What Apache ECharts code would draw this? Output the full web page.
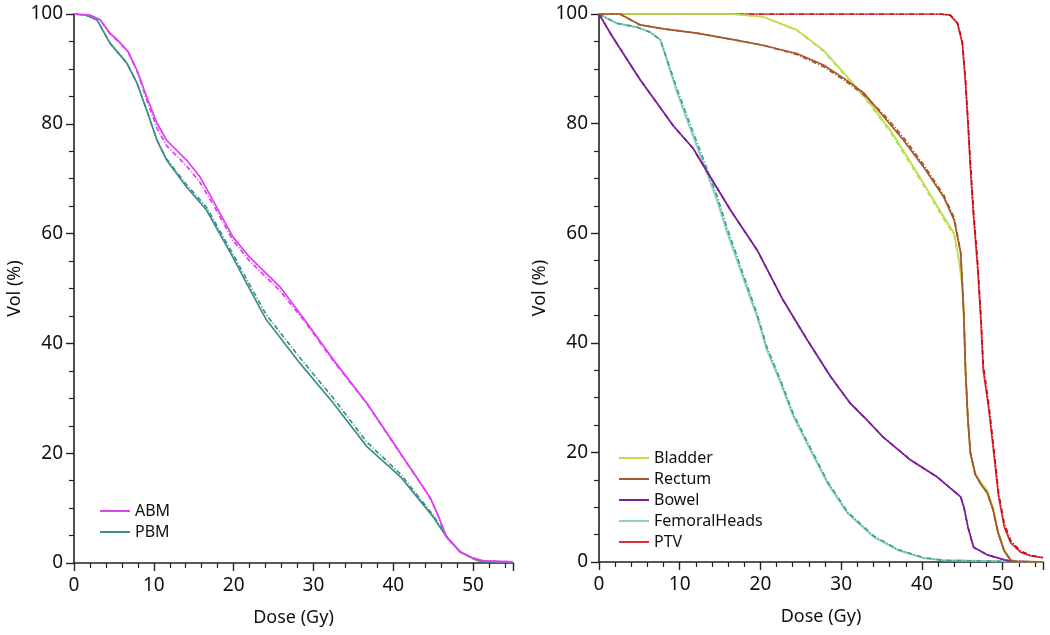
<!DOCTYPE html>
<html>
<head>
<meta charset="utf-8">
<script src="https://cdn.jsdelivr.net/npm/echarts@6/dist/echarts.min.js"></script>
<style>
  html, body { margin: 0; padding: 0; background: #fff; }
  #chart-container { width: 1050px; height: 635px; }
</style>
</head>
<body>
<div id="chart-container"></div>
<script>
// left panel: bone marrow DVH (solid / dash-dot plan)
const abmDose = [0, 2, 3.3, 4.5, 5.7, 6.8, 8.0, 9.1, 10.4, 11.6, 14.1, 15.8, 17.4, 19.9, 22.0, 25.8, 28.9, 32.5, 36.7, 40.9, 44.6, 45.5, 46.7, 48.4, 50.0, 51.3, 55];
const abmVol = [100, 99.8, 98.9, 96.5, 94.9, 93.1, 89.4, 84.9, 80.1, 77.0, 73.4, 70.3, 66.1, 59.4, 55.7, 50.3, 44.3, 37.0, 29.1, 20.0, 12.0, 9.1, 4.7, 2.0, 0.9, 0.4, 0.2];
const abmVolDash = [100, 99.8, 98.9, 96.4, 94.8, 93.0, 89.2, 84.4, 79.2, 76.0, 72.3, 69.3, 65.4, 58.8, 55.0, 49.6, 44.0, 36.8, 29.0, 19.9, 11.9, 9.0, 4.6, 2.0, 0.9, 0.4, 0.2];

const pbmDose = [0, 1.5, 2.9, 4.5, 6.6, 7.9, 9.1, 10.4, 11.6, 14.1, 16.6, 19.9, 21.2, 24.1, 28.3, 32.5, 36.7, 40.9, 45.0, 46.7, 48.4, 50, 51, 55];
const pbmVol = [100, 99.8, 98.9, 94.7, 91.1, 87.4, 82.5, 77.0, 73.4, 68.5, 64.3, 55.7, 52.1, 44.3, 36.4, 29.1, 21.2, 15.7, 8.4, 4.7, 2.0, 0.8, 0.3, 0.1];
const pbmVolDash = [100, 99.8, 98.9, 94.7, 91.1, 87.4, 82.5, 77.0, 73.6, 68.9, 64.8, 56.3, 52.8, 45.2, 37.4, 30.0, 22.0, 16.2, 8.7, 4.8, 2.0, 0.8, 0.3, 0.1];

// right panel: organs at risk + PTV
const bladderDose = [0, 16.3, 20.3, 24.5, 27.8, 31.1, 33.6, 36.1, 38.2, 40.7, 42.7, 44.0, 44.6, 45.0, 45.2, 45.4, 45.7, 46.0, 46.6, 47.3, 48.1, 48.8, 49.4, 50.2, 51.0, 52, 55];
const bladderVol = [100, 100, 99.5, 97.1, 93.4, 88.0, 83.7, 78.8, 73.9, 67.9, 63.0, 60.0, 55.1, 50.2, 44.2, 35.0, 25.9, 19.9, 16.2, 14.6, 13.1, 10.0, 5.8, 2.2, 0.4, 0, 0];
const bladderVolDash = [100, 100, 99.5, 97.0, 93.2, 87.8, 83.4, 78.4, 73.5, 67.5, 62.6, 59.6, 54.8, 50.0, 44.0, 34.8, 25.7, 19.7, 16.0, 14.4, 12.9, 9.8, 5.6, 2.1, 0.4, 0, 0];

const rectumDose = [0, 2.6, 5.1, 8.0, 12.1, 16.3, 20.3, 24.5, 27.8, 30.3, 32.8, 35.3, 37.7, 40.2, 42.7, 44.0, 44.8, 45.0, 45.2, 45.4, 45.7, 46.0, 46.6, 47.3, 48.1, 48.8, 49.4, 50.2, 51.0, 52, 55];
const rectumVol = [100, 100, 98.0, 97.3, 96.5, 95.4, 94.3, 92.8, 90.7, 88.3, 85.6, 81.2, 77.0, 72.1, 66.6, 62.4, 56.4, 50.9, 45.0, 35.0, 26.0, 20.0, 16.0, 14.2, 12.6, 9.6, 5.5, 2.0, 0.3, 0, 0];
const rectumVolDash = [100, 100, 98.0, 97.3, 96.5, 95.4, 94.3, 92.6, 90.4, 88.0, 85.3, 81.6, 77.5, 72.5, 67.0, 62.8, 56.6, 51.0, 45.0, 35.0, 26.0, 20.0, 16.0, 14.2, 12.6, 9.6, 5.5, 2.0, 0.3, 0, 0];

const bowelDose = [0, 1.4, 3.0, 5.1, 7.2, 9.2, 11.7, 12.5, 16.3, 19.6, 22.8, 25.8, 28.7, 31.1, 32.8, 35.2, 38.6, 41.9, 44.8, 45.2, 45.7, 46.4, 48.1, 50.2, 51.5, 55];
const bowelVol = [100, 96.5, 92.8, 88.0, 83.7, 79.6, 75.4, 73.4, 64.2, 56.9, 47.8, 40.5, 33.8, 29.0, 26.5, 22.8, 18.6, 15.5, 11.9, 10.0, 6.4, 2.7, 1.3, 0.4, 0.1, 0];
const bowelVolDash = [100, 96.5, 92.8, 88.0, 83.7, 79.6, 75.4, 73.4, 64.2, 56.9, 47.8, 40.5, 33.8, 29.0, 26.5, 22.8, 18.6, 15.5, 11.9, 10.0, 6.4, 2.7, 1.3, 0.4, 0.1, 0];

const femDose = [0, 2.2, 4.7, 6.3, 7.6, 8.4, 9.7, 10.9, 12.9, 14.6, 15.9, 17.1, 18.4, 19.6, 20.8, 22.5, 24.1, 26.2, 28.3, 30.8, 34.0, 37.0, 40.2, 42.7, 55];
const femVol = [100, 98.3, 97.6, 96.7, 95.3, 91.6, 85.6, 80.7, 72.8, 66.1, 60.0, 55.1, 49.6, 44.7, 38.7, 32.7, 26.5, 20.4, 14.4, 8.9, 4.6, 2.2, 0.7, 0.3, 0];
const femVolDash = [100, 98.3, 97.6, 96.7, 95.3, 91.8, 86.2, 81.4, 73.6, 66.9, 60.8, 55.8, 50.2, 45.2, 39.2, 33.1, 26.9, 20.8, 14.7, 9.1, 4.8, 2.3, 0.8, 0.3, 0];

const ptvDose = [0, 42.3, 43.5, 44.4, 45.0, 45.4, 45.7, 46.0, 46.4, 46.9, 47.3, 47.6, 48.3, 48.9, 49.5, 50.2, 51.0, 52.2, 53.5, 55];
const ptvVol = [100, 100, 99.8, 98.3, 94.7, 87.4, 80.1, 72.1, 63.0, 53.8, 44.2, 35.0, 27.7, 19.9, 11.9, 6.4, 3.5, 1.8, 1.1, 0.8];
const ptvVolDash = [100, 100, 99.8, 98.4, 95.0, 88.0, 80.8, 72.9, 63.9, 54.7, 45.2, 36.0, 28.6, 20.7, 12.6, 7.0, 3.9, 2.0, 1.2, 0.8];

const xTicks = [0, 10, 20, 30, 40, 50];
const yTicks = [0, 20, 40, 60, 80, 100];

const font = 'Noto Sans';

function pairs(dose, vol) {
    return dose.map(function (d, i) { return [d, vol[i]]; });
}

function curve(name, grid, dose, vol, color, dashed, width) {
    return {
        name: name,
        type: 'line',
        xAxisIndex: grid,
        yAxisIndex: grid,
        data: pairs(dose, vol),
        showSymbol: false,
        silent: true,
        animation: false,
        lineStyle: {
            color: color,
            width: width || 1.7,
            type: dashed ? [5, 2, 1, 2] : 'solid'
        },
        itemStyle: { color: color }
    };
}

function xAxis(grid) {
    return {
        type: 'value',
        gridIndex: grid,
        min: 0,
        max: 55,
        interval: 10,
        name: 'Dose (Gy)',
        nameLocation: 'middle',
        nameGap: 46,
        nameTextStyle: { fontFamily: font, fontSize: 18, color: '#111' },
        axisLine: { show: true, lineStyle: { color: '#222', width: 1.6 } },
        axisTick: { show: true, length: 8, lineStyle: { color: '#222', width: 1.4 } },
        minorTick: { show: true, splitNumber: 5, length: 5, lineStyle: { color: '#222', width: 1.2 } },
        splitLine: { show: false },
        axisLabel: {
            fontFamily: font, fontSize: 19, color: '#111', margin: 13,
            formatter: function (v) { return xTicks.indexOf(v) >= 0 ? String(v) : ''; }
        }
    };
}

function yAxis(grid) {
    return {
        type: 'value',
        gridIndex: grid,
        min: 0,
        max: 100,
        interval: 20,
        name: 'Vol (%)',
        nameLocation: 'middle',
        nameGap: 50,
        nameTextStyle: { fontFamily: font, fontSize: 18, color: '#111' },
        axisLine: { show: true, lineStyle: { color: '#222', width: 1.6 } },
        axisTick: { show: true, length: 8, lineStyle: { color: '#222', width: 1.4 } },
        minorTick: { show: true, splitNumber: 4, length: 5, lineStyle: { color: '#222', width: 1.2 } },
        splitLine: { show: false },
        axisLabel: {
            fontFamily: font, fontSize: 19, color: '#111', margin: 11,
            formatter: function (v) { return yTicks.indexOf(v) >= 0 ? String(v) : ''; }
        }
    };
}

const legendBase = {
    orient: 'vertical',
    icon: 'rect',
    itemWidth: 30,
    itemHeight: 2,
    itemGap: 5,
    selectedMode: false,
    textStyle: { fontFamily: font, fontSize: 16, color: '#111', lineHeight: 16 }
};

const colors = {
    abm: '#dd3ff2',
    pbm: '#3d8f8a',
    bladder: '#b9df4e',
    rectum: '#a5562e',
    bowel: '#7b1d9a',
    fem: '#8fd3bf',
    femDash: '#3f9e95',
    ptv: '#d9303a',
    ptvDash: '#cc0a14'
};

const option = {
    backgroundColor: '#fff',
    animation: false,
    grid: [
        { left: 74, top: 14, width: 439, height: 549 },
        { left: 599, top: 14, width: 444, height: 548 }
    ],
    xAxis: [xAxis(0), xAxis(1)],
    yAxis: [yAxis(0), yAxis(1)],
    legend: [
        Object.assign({}, legendBase, { left: 95, top: 498, data: ['ABM', 'PBM'] }),
        Object.assign({}, legendBase, { left: 614, top: 445, data: ['Bladder', 'Rectum', 'Bowel', 'FemoralHeads', 'PTV'] })
    ],
    series: [
        curve('PBM', 0, pbmDose, pbmVol, colors.pbm, false),
        curve('PBM dash', 0, pbmDose, pbmVolDash, colors.pbm, true),
        curve('ABM', 0, abmDose, abmVol, colors.abm, false),
        curve('ABM dash', 0, abmDose, abmVolDash, colors.abm, true),

        curve('PTV', 1, ptvDose, ptvVol, colors.ptv, false),
        curve('PTV dash', 1, ptvDose, ptvVolDash, colors.ptvDash, true),
        curve('FemoralHeads', 1, femDose, femVol, colors.fem, false, 2),
        curve('FemoralHeads dash', 1, femDose, femVolDash, colors.femDash, true),
        curve('Bowel', 1, bowelDose, bowelVol, colors.bowel, false),
        curve('Bowel dash', 1, bowelDose, bowelVolDash, colors.bowel, true),
        curve('Bladder', 1, bladderDose, bladderVol, colors.bladder, false),
        curve('Bladder dash', 1, bladderDose, bladderVolDash, colors.bladder, true),
        curve('Rectum', 1, rectumDose, rectumVol, colors.rectum, false),
        curve('Rectum dash', 1, rectumDose, rectumVolDash, colors.rectum, true)
    ]
};

const chart = echarts.init(document.querySelector('#chart-container'), null, { renderer: 'canvas' });
chart.setOption(option);
</script>
</body>
</html>
